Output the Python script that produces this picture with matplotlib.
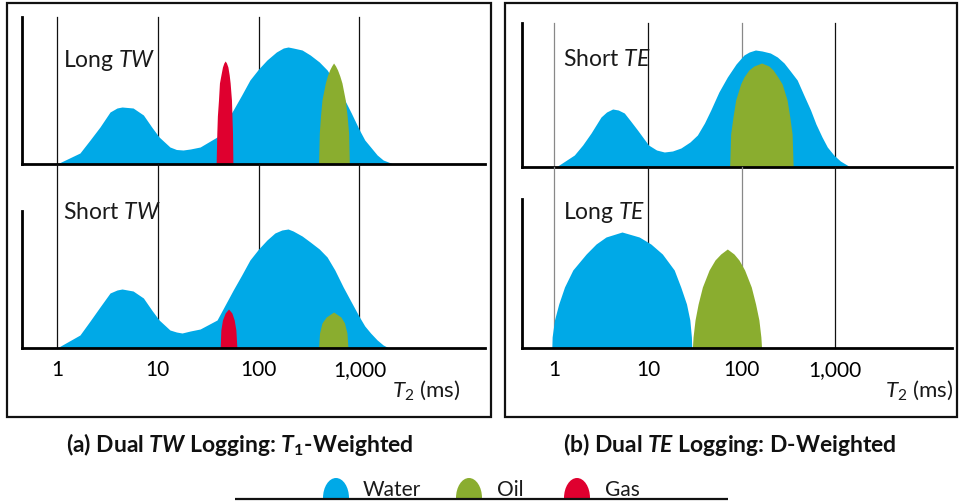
import matplotlib
matplotlib.use('Agg')
import matplotlib.pyplot as plt
from matplotlib.patches import Rectangle, PathPatch
from matplotlib.path import Path
from matplotlib.ticker import NullLocator

plt.rcParams['font.family'] = ['Lato', 'DejaVu Sans']
plt.rcParams['mathtext.fontset'] = 'custom'
plt.rcParams['mathtext.rm'] = 'Lato'
plt.rcParams['mathtext.it'] = 'Lato:italic'
plt.rcParams['mathtext.bf'] = 'Lato:bold'
plt.rcParams['mathtext.bfit'] = 'Lato:italic:bold'

# T2 grid / tick labels (ms)
grid_t2 = [1, 10, 100, 1000]
grid_labels = ['1', '10', '100', '1,000']

# (a) dual TW, long TW curves: T2 (ms) and amplitude (arb. units)
a_long_water_t2 = [1.0, 1.69, 2.13, 2.67, 3.36, 3.94, 4.42, 5.69, 7.2, 8.7, 10.3, 13.2, 15.3,
                   17.8, 21, 26.3, 38.7, 56, 68, 82, 100, 121, 150, 176, 196, 220, 270, 325,
                   400, 478, 570, 690, 830, 1000, 1130, 1290, 1500, 1720, 2170]
a_long_water_amp = [0, 11, 24, 37, 52, 56, 57, 56, 49, 37, 27, 17, 14.5,
                    14, 15, 17, 27, 54, 69, 84, 95, 104, 112, 116, 117, 116, 114, 109,
                    102, 94, 82, 67, 51, 34, 24, 17, 9, 4, 0]
a_long_gas_t2 = [37.9, 38.5, 39.0, 40.0, 40.9, 42.3, 43.8, 45.2, 46.6, 48.0, 49.6, 51.1, 52.2,
                 53.8, 54.4, 55.1, 55.6]
a_long_gas_amp = [0, 31, 48, 64, 81, 89, 97, 101, 103, 101, 97, 89, 81, 64, 48, 31, 0]
a_long_oil_t2 = [393, 400, 411, 425, 459, 480, 506, 530, 554, 580, 607, 639, 671, 724, 755,
                 781, 794]
a_long_oil_amp = [0, 31, 48, 64, 81, 88, 94, 98, 101, 98, 94, 88, 81, 64, 48, 31, 0]

# (a) short TW
a_short_water_t2 = [1.0, 1.69, 2.13, 2.67, 3.36, 3.94, 4.42, 5.69, 7.2, 8.7, 10.3, 13.2, 15.3,
                    17.4, 21, 26.3, 38.7, 56, 68, 82, 100, 121, 145, 170, 196, 220, 270, 325,
                    400, 478, 570, 690, 830, 1000, 1130, 1290, 1500, 1720, 1960]
a_short_water_amp = [0, 13, 27, 41, 55, 58, 59, 57, 50, 38, 28, 18, 16,
                     15, 17, 19, 28, 58, 73, 88, 99, 108, 115, 118, 119, 117, 112, 106,
                     99, 91, 78, 61, 46, 31, 22, 15, 8, 3, 0]
a_short_gas_t2 = [41.6, 42.2, 43.8, 46.6, 50.3, 54.3, 57.3, 59.5, 60.9]
a_short_gas_amp = [0, 18, 28, 35, 39, 35, 28, 18, 0]
a_short_oil_t2 = [393, 402, 425, 468, 554, 655, 711, 752, 770]
a_short_oil_amp = [0, 15, 25, 31, 36, 31, 25, 15, 0]

# (b) dual TE, short TE
b_short_water_t2 = [1.04, 1.63, 2.0, 2.46, 3.14, 3.6, 4.18, 4.8, 5.57, 6.5, 7.7, 8.9, 10.1,
                    12.3, 14.9, 18.2, 22.4, 28, 33.6, 40, 46.7, 57, 70.2, 87, 105.6, 120, 140,
                    165, 202, 240, 283, 330, 391, 460, 543, 620, 720, 820, 961, 1130, 1330, 1440]
b_short_water_amp = [0, 12, 22, 34, 50, 55, 58, 57, 54, 46, 37, 29, 22,
                     17, 15, 16, 19, 25, 32, 44, 57, 75, 90, 103, 112, 115, 117,
                     116, 114, 110, 104, 96, 87, 72, 57, 43, 30, 20, 12, 6, 2, 0]
b_short_oil_t2 = [74.3, 76.1, 80.6, 86.1, 97.3, 105.5, 119, 135, 163, 195, 216, 243, 270,
                  305, 326, 345, 354]
b_short_oil_amp = [0, 33, 50, 67, 83, 90, 97, 101, 104, 101, 97, 90, 83, 67, 50, 33, 0]

# (b) long TE
b_long_water_t2 = [0.937, 0.944, 1.0, 1.11, 1.28, 1.57, 2.18, 2.78, 3.55, 5.26, 8.04, 10.7,
                   14.2, 19.0, 22.3, 25.7, 27.9, 29.0, 29.3]
b_long_water_amp = [0, 11, 28, 44, 61, 78, 94, 104, 111, 116, 111, 104,
                    94, 78, 61, 44, 28, 11, 0]
b_long_oil_t2 = [29.7, 30.2, 31.7, 34.2, 38.0, 44.8, 51.8, 59.6, 70.1, 82.6, 93.4, 107.3,
                 126.4, 140.5, 152.5, 160.1, 162.8]
b_long_oil_amp = [0, 11, 28, 44, 61, 78, 88, 94, 99, 94, 88, 78,
                  61, 44, 28, 11, 0]

fluid_names = ['Water', 'Oil', 'Gas']
WATER, OIL, GAS = '#00A9E7', '#8AAD2F', '#DF002F'
fluid_colors = [WATER, OIL, GAS]

W, H = 959, 501
fig = plt.figure(figsize=(W / 100, H / 100), dpi=100)


def px_axes(x0, y0, x1, y1):
    ax = fig.add_axes([x0 / W, 1 - y1 / H, (x1 - x0) / W, (y1 - y0) / H])
    ax.set_xscale('log')
    ax.set_xlim(0.45, 17600)
    ax.set_ylim(0, y1 - y0)
    ax.xaxis.set_minor_locator(NullLocator())
    ax.set_yticks([])
    ax.set_facecolor('none')
    for s in ['top', 'right']:
        ax.spines[s].set_visible(False)
    for s in ['left', 'bottom']:
        ax.spines[s].set_linewidth(2.0)
    return ax


def grid(ax, colors, ymax=1.0):
    for t, c in zip(grid_t2, colors):
        ax.axvline(t, ymin=0, ymax=ymax, color=c, lw=0.9, zorder=0.5, clip_on=False)


def curves(ax, series):
    for t2, amp, col in series:
        ax.fill_between(t2, amp, 0, color=col, lw=0, zorder=1)


# panel (a)
ax_a1 = px_axes(22, 17, 485, 164)
ax_a2 = px_axes(22, 211, 485, 348)
# panel (b)
ax_b1 = px_axes(522, 23, 952, 167)
ax_b2 = px_axes(522, 199, 952, 348)

grid_a = ['#111111'] * 4
grid_b = ['#888888', '#111111', '#888888', '#111111']
grid(ax_a1, grid_a)
grid(ax_a2, grid_a, ymax=(348 - 164) / (348 - 211))
grid(ax_b1, grid_b)
grid(ax_b2, grid_b, ymax=(348 - 167) / (348 - 199))

curves(ax_a1, [(a_long_water_t2, a_long_water_amp, WATER),
               (a_long_gas_t2, a_long_gas_amp, GAS),
               (a_long_oil_t2, a_long_oil_amp, OIL)])
curves(ax_a2, [(a_short_water_t2, a_short_water_amp, WATER),
               (a_short_gas_t2, a_short_gas_amp, GAS),
               (a_short_oil_t2, a_short_oil_amp, OIL)])
curves(ax_b1, [(b_short_water_t2, b_short_water_amp, WATER),
               (b_short_oil_t2, b_short_oil_amp, OIL)])
curves(ax_b2, [(b_long_water_t2, b_long_water_amp, WATER),
               (b_long_oil_t2, b_long_oil_amp, OIL)])

for ax in [ax_a1, ax_b1]:
    ax.set_xticks(grid_t2)
    ax.tick_params(axis='x', length=0, labelbottom=False)
for ax in [ax_a2, ax_b2]:
    ax.set_xticks(grid_t2, grid_labels)
    ax.tick_params(axis='x', length=0, pad=9, labelsize=15)

# overlay in pixel coordinates for frames, labels, legend
ov = fig.add_axes([0, 0, 1, 1])
ov.set_xlim(0, W)
ov.set_ylim(H, 0)
ov.axis('off')

ov.add_patch(Rectangle((7, 3), 484, 414, fill=False, lw=1.6, ec='#111111'))
ov.add_patch(Rectangle((505, 3), 452, 414, fill=False, lw=1.6, ec='#111111'))

lbl = dict(fontsize=16.5, color='#1a1a1a', va='baseline')
ov.text(63, 67, r'Long $TW$', **lbl)
ov.text(63, 219, r'Short $TW$', **lbl)
ov.text(563, 66, r'Short $TE$', **lbl)
ov.text(563, 219, r'Long $TE$', **lbl)
ax_lbl = dict(fontsize=16, color='#1a1a1a', va='baseline')
ov.text(392, 397, r'$T_2$ (ms)', **ax_lbl)
ov.text(885, 397, r'$T_2$ (ms)', **ax_lbl)

ttl = dict(fontsize=16.5, fontweight='bold', color='#111111', va='baseline', ha='center')
ov.text(240, 452, r'(a) Dual $\mathbfit{TW}$ Logging: $\mathbfit{T}_{\mathbf{1}}$-Weighted', **ttl)
ov.text(730, 452, r'(b) Dual $\mathbfit{TE}$ Logging: D-Weighted', **ttl)

# legend
ov.plot([235, 728], [498.5, 498.5], color='#111111', lw=1.6, solid_capstyle='butt')


def dome(xc, yb, w, h, color):
    k = 0.55
    x0, x1, yt = xc - w / 2, xc + w / 2, yb - h
    verts = [(x0, yb), (x0, yb - k * h), (xc - k * w / 2, yt), (xc, yt),
             (xc + k * w / 2, yt), (x1, yb - k * h), (x1, yb), (x0, yb)]
    codes = [Path.MOVETO] + [Path.CURVE4] * 6 + [Path.CLOSEPOLY]
    ov.add_patch(PathPatch(Path(verts, codes), fc=color, lw=0))


leg_txt = dict(fontsize=15, color='#1a1a1a', va='baseline')
for name, col, xc, xt in zip(fluid_names, fluid_colors, [336, 469, 577], [363, 497, 605]):
    dome(xc, 498, 26, 20, col)
    ov.text(xt, 496, name, **leg_txt)

fig.savefig('out.png', dpi=100)
